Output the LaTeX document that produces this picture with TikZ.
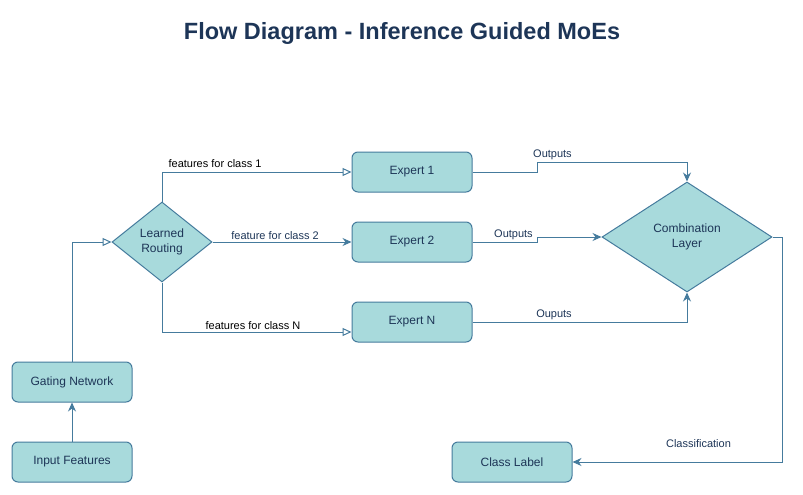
\documentclass[tikz,border=0pt]{standalone}
\usepackage{fontspec}
\setmainfont{Liberation Sans}
\usetikzlibrary{arrows.meta,shapes.geometric}
\definecolor{boxfill}{HTML}{A8DADC}
\definecolor{boxline}{HTML}{457B9D}
\definecolor{boxtext}{HTML}{1D3557}
\tikzset{
  box/.style={draw=boxline, fill=boxfill, rounded corners=6pt, line width=1pt,
    minimum width=120pt, minimum height=40pt, inner sep=0pt,
    text=boxtext, font=\fontsize{12}{14}\selectfont},
  decision/.style={diamond, draw=boxline, fill=boxfill, line width=1pt,
    inner sep=0pt, align=center, text=boxtext, font=\fontsize{12}{15}\selectfont},
  link/.style={draw=boxline, line width=1pt},
  filled/.style={-{Stealth[length=9pt,width=8pt]}},
  hollow/.style={-{Triangle[open,length=9pt,width=8pt]}},
  lbl/.style={font=\fontsize{11}{13}\selectfont, text=boxtext, inner sep=2pt},
  title/.style={font=\bfseries\fontsize{23.5}{28}\selectfont, text=boxtext}
}

\begin{document}
\begin{tikzpicture}[x=1pt, y=-1pt]
\useasboundingbox (0,0) rectangle (803,495);
% title
\node[title] (title) at (402,33) {Flow Diagram - Inference Guided MoEs};

% nodes
\node[box] (input) at (72,462) {Input Features};
\node[box] (gate) at (72,382) {Gating Network};
\node[decision, minimum width=100pt, minimum height=80pt] (route) at (162,242) {Learned\\Routing};
\node[box] (exp1) at (412,172) {Expert 1};
\node[box] (exp2) at (412,242) {Expert 2};
\node[box] (expN) at (412,322) {Expert N};
\node[decision, minimum width=170pt, minimum height=110pt] (comb) at (687,237) {Combination\\Layer};
\node[box] (cls) at (512,462) {Class Label};

% connectors
\draw[link, filled] (input) -- (gate);
\draw[link, hollow] (gate.north) |- (route.west);

\draw[link, hollow] (route.north) |- node[lbl, text=black, pos=0.64, above, yshift=2pt] {features for class 1} (exp1.west);
\draw[link, filled] (route.east) -- node[lbl, pos=0.45, above] {feature for class 2} (exp2.west);
\draw[link, hollow] (route.south) |- node[lbl, text=black, pos=0.74, above] {features for class N} ([yshift=-10pt]expN.west);

\draw[link, filled] (exp1.east) -- ++(65,0) -- ++(0,-10) -| node[lbl, pos=0.05, above] {Outputs} (comb.north);
\draw[link, filled] (exp2.east) -- node[lbl, pos=0.63, above] {Outputs} ++(65,0) |- (comb.west);
\draw[link, filled] (expN.east) -| node[lbl, pos=0.19, above] {Ouputs} (comb.south);

\draw[link, filled] (comb.east) -- ++(10,0) |- node[lbl, pos=0.70, above, yshift=12pt] {Classification} (cls.east);
\end{tikzpicture}
\end{document}
